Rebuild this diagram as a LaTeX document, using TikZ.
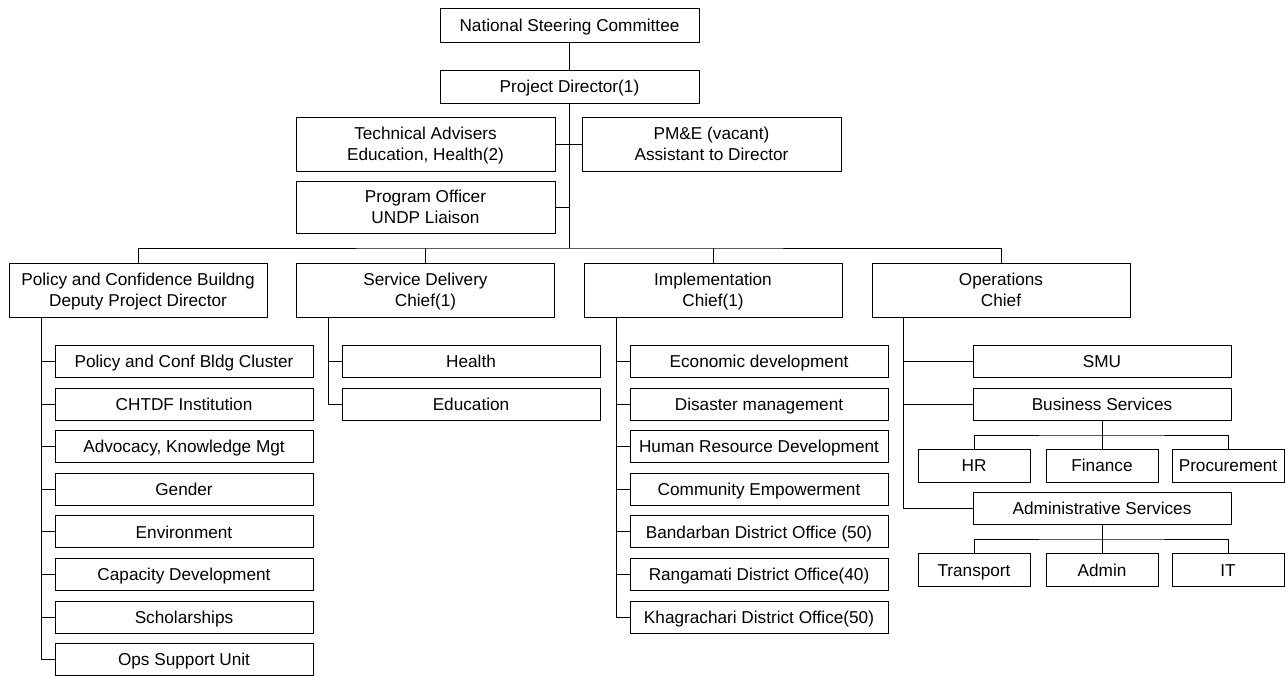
\documentclass[tikz,border=0pt]{standalone}
\usepackage{fontspec}
\setmainfont{Liberation Sans}
\begin{document}
\begin{tikzpicture}[x=1pt,y=-1pt,
  every node/.style={font=\fontsize{17.2}{20.4}\selectfont},
  box/.style={draw, line width=1pt, rectangle, align=center, inner sep=0pt,
              minimum width=258pt, minimum height=32pt,
              text height=12.3pt, text depth=0pt},
  tall/.style={box, minimum height=54pt, text height=32.7pt},
  small/.style={box, minimum width=112pt, minimum height=33pt},
  link/.style={line width=1pt}]
\useasboundingbox (0,0) rectangle (1287,675);
\fill[white] (0,0) rectangle (1287,675);

% top of the hierarchy
\node[box, minimum width=259pt, minimum height=34pt] (nsc) at (569.5,25) {National Steering Committee};
\node[box, minimum width=259pt, minimum height=33pt] (pd) at (569.5,86.5) {Project Director(1)};
\node[tall, minimum width=259pt] (ta) at (425.5,144) {Technical Advisers\\Education, Health(2)};
\node[tall, minimum width=259pt] (pme) at (711.5,144) {PM\&E (vacant)\\Assistant to Director};
\node[tall, minimum width=259pt, minimum height=52pt] (po) at (425.5,207) {Program Officer\\UNDP Liaison};

% the four divisions
\node[tall] (pol) at (138,290) {Policy and Confidence Buildng\\Deputy Project Director};
\node[tall] (sd) at (425.5,290) {Service Delivery\\Chief(1)};
\node[tall] (impl) at (713,290) {Implementation\\Chief(1)};
\node[tall] (ops) at (1001,290) {Operations\\Chief};

% policy units
\node[box] (p1) at (184,361.5) {Policy and Conf Bldg Cluster};
\node[box] (p2) at (184,404.1) {CHTDF Institution};
\node[box] (p3) at (184,446.7) {Advocacy, Knowledge Mgt};
\node[box] (p4) at (184,489.3) {Gender};
\node[box] (p5) at (184,531.9) {Environment};
\node[box] (p6) at (184,574.5) {Capacity Development};
\node[box] (p7) at (184,617.1) {Scholarships};
\node[box] (p8) at (184,659.7) {Ops Support Unit};

% service delivery units
\node[box] (s1) at (471,361.5) {Health};
\node[box] (s2) at (471,404.1) {Education};

% implementation units
\node[box] (i1) at (759,361.5) {Economic development};
\node[box] (i2) at (759,404.1) {Disaster management};
\node[box] (i3) at (759,446.7) {Human Resource Development};
\node[box] (i4) at (759,489.3) {Community Empowerment};
\node[box] (i5) at (759,531.9) {Bandarban District Office (50)};
\node[box] (i6) at (759,574.5) {Rangamati District Office(40)};
\node[box] (i7) at (759,617.1) {Khagrachari District Office(50)};

% operations units
\node[box] (smu) at (1102,361.5) {SMU};
\node[box] (bs) at (1102,404.1) {Business Services};
\node[small] (hr) at (974,465.5) {HR};
\node[small] (fin) at (1102,465.5) {Finance};
\node[small] (proc) at (1228,465.5) {Procurement};
\node[box] (adm) at (1102,508) {Administrative Services};
\node[small] (tr) at (974,570) {Transport};
\node[small] (ad) at (1102,570) {Admin};
\node[small] (it) at (1228,570) {IT};

% junction points
\coordinate (bus) at (569.5,248);
\coordinate (polT) at (41,317);
\coordinate (sdT) at (328,317);
\coordinate (implT) at (616,317);
\coordinate (opsT) at (903.5,317);
\coordinate (bsj) at (1102,435);
\coordinate (admj) at (1102,539);

% connectors: top
\draw[link] (nsc) -- (pd);
\draw[link] (pd.south) -- (bus);
\draw[link] (ta.east) -- (pme.west);
\draw[link] (po.east) -- (po.east -| pd.south);
\draw[link] (pol.north) |- (bus) -| (ops.north);
\draw[link] (sd.north) -- (sd.north |- bus);
\draw[link] (impl.north) -- (impl.north |- bus);

% connectors: policy
\draw[link] (polT) |- (p8.west);
\foreach \n in {p1,p2,p3,p4,p5,p6,p7}
  \draw[link] (polT |- \n.west) -- (\n.west);

% connectors: service delivery
\draw[link] (sdT) |- (s2.west);
\draw[link] (sdT |- s1.west) -- (s1.west);

% connectors: implementation
\draw[link] (implT) |- (i7.west);
\foreach \n in {i1,i2,i3,i4,i5,i6}
  \draw[link] (implT |- \n.west) -- (\n.west);

% connectors: operations
\draw[link] (opsT) |- (adm.west);
\draw[link] (opsT |- smu.west) -- (smu.west);
\draw[link] (opsT |- bs.west) -- (bs.west);
\draw[link] (bs.south) -- (bsj);
\draw[link] (hr.north) |- (bsj) -| (proc.north);
\draw[link] (fin.north) -- (bsj);
\draw[link] (adm.south) -- (admj);
\draw[link] (tr.north) |- (admj) -| (it.north);
\draw[link] (ad.north) -- (admj);
\end{tikzpicture}
\end{document}
